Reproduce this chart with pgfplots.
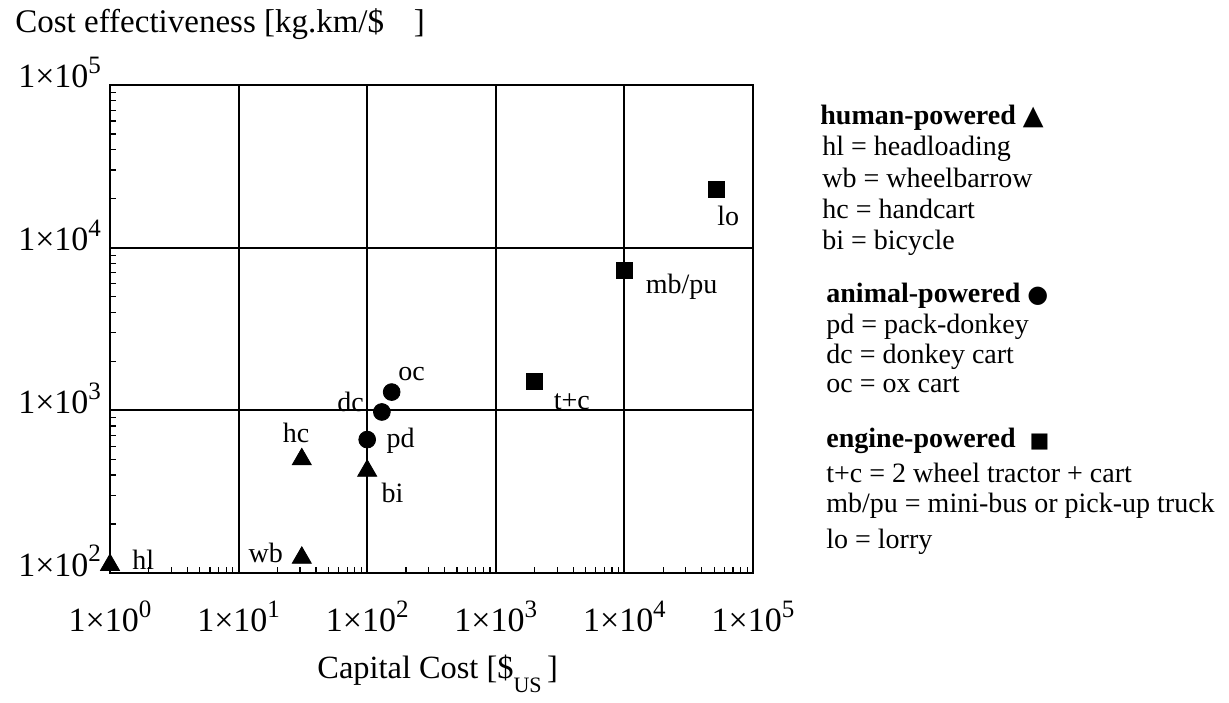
\documentclass[border=0pt]{standalone}
\usepackage{pgfplots}
\pgfplotsset{compat=1.18}
\usepackage{fontspec}
\setmainfont{Liberation Serif}
\newfontfamily\dejavu{DejaVu Sans}
\newcommand{\tl}[1]{1×10\raisebox{0.42em}{\fontsize{12.5}{12.5}\selectfont #1}}
\tikzset{lab/.style={font=\fontsize{14}{14}\selectfont, inner sep=0pt}}
\begin{document}
\begin{tikzpicture}[x=1pt,y=1pt]
\useasboundingbox (-55,-64.5) rectangle (559.5,286.5);
\begin{axis}[at={(0,0)}, anchor=south west, scale only axis,
  width=321.5pt, height=244pt,
  xmode=log, ymode=log, xmin=1, xmax=1e5, ymin=100, ymax=1e5,
  xtick={1,10,100,1000,10000,100000},
  xticklabels={\tl{0},\tl{1},\tl{2},\tl{3},\tl{4},\tl{5}},
  ytick={100,1000,10000,100000},
  yticklabels={\tl{2},\tl{3},\tl{4},\tl{5}},
  grid=major, major grid style={black, line width=1pt},
  axis line style={line width=1pt},
  tick pos=left, tick align=inside, major tick length=0pt, minor tick length=3pt,
  minor tick style={line width=0.6pt, black},
  ticklabel style={font=\fontsize{17}{17}\selectfont},
  xticklabel style={yshift=-10.5pt},
  yticklabel style={anchor=base east, xshift=-1pt, yshift=-1.5pt},
  clip=false]
\addplot[only marks, mark=triangle*, mark size=5.5pt, black] coordinates {
  (1,112) (31,124) (31,500) (100,425)};
\addplot[only marks, mark=*, mark size=4.2pt, black] coordinates {
  (100,661) (130,977) (155,1295)};
\addplot[only marks, mark=square*, mark size=4pt, black] coordinates {
  (2000,1500) (10000,7200) (52000,22900)};
\node[lab, anchor=base west, xshift=11pt, yshift=-2.5pt] at (axis cs:1,112) {hl};
\node[lab, anchor=base east, xshift=-9.3pt, yshift=-2.5pt] at (axis cs:31,124) {wb};
\node[lab, anchor=base, xshift=-2.8pt, yshift=8.3pt] at (axis cs:31,500) {hc};
\node[lab, anchor=base west, xshift=7pt, yshift=-16pt] at (axis cs:100,425) {bi};
\node[lab, anchor=base west, xshift=9.5pt, yshift=-3.8pt] at (axis cs:100,661) {pd};
\node[lab, anchor=base east, xshift=-8.8pt, yshift=0pt] at (axis cs:130,977) {dc};
\node[lab, anchor=base west, xshift=3.2pt, yshift=5.8pt] at (axis cs:155,1295) {oc};
\node[lab, anchor=base west, xshift=9.5pt, yshift=-13.7pt] at (axis cs:2000,1500) {t+c};
\node[lab, anchor=base west, xshift=10.5pt, yshift=-11.5pt] at (axis cs:10000,7200) {mb/pu};
\node[lab, anchor=base west, xshift=0.2pt, yshift=-18.3pt] at (axis cs:52000,22900) {lo};
\end{axis}
\begin{scope}[every node/.style={font=\fontsize{14}{14}\selectfont, inner sep=0pt, anchor=base west}]
\node[font=\fontsize{16.5}{16.5}\selectfont] at (-47.5,270) {Cost effectiveness [kg.km/\$\hspace{0.9em}]};
\node[font=\fontsize{16.2}{16.2}\selectfont] at (103.5,-52.5) {Capital Cost [\$\raisebox{-0.45em}{\fontsize{11}{11}\selectfont US}\,]};
\node at (355,224) {\textbf{human-powered} {\dejavu\fontsize{13.5}{13.5}\selectfont ▲}};
\node at (356,208.5) {hl = headloading};
\node at (356,192.5) {wb = wheelbarrow};
\node at (356,177) {hc = handcart};
\node at (356,161.5) {bi = bicycle};
\node at (358,135.5) {\textbf{animal-powered} {\dejavu\fontsize{12}{12}\selectfont ●}};
\node at (358,120) {pd = pack-donkey};
\node at (358,105) {dc = donkey cart};
\node at (358,90.5) {oc = ox cart};
\node at (358,63) {\textbf{engine-powered}\hspace{0.5em}{\dejavu\fontsize{10.5}{10.5}\selectfont ■}};
\node at (358,45.5) {t+c = 2 wheel tractor + cart};
\node at (358,30.5) {mb/pu = mini-bus or pick-up truck};
\node at (358,12.5) {lo = lorry};
\end{scope}
\end{tikzpicture}
\end{document}
